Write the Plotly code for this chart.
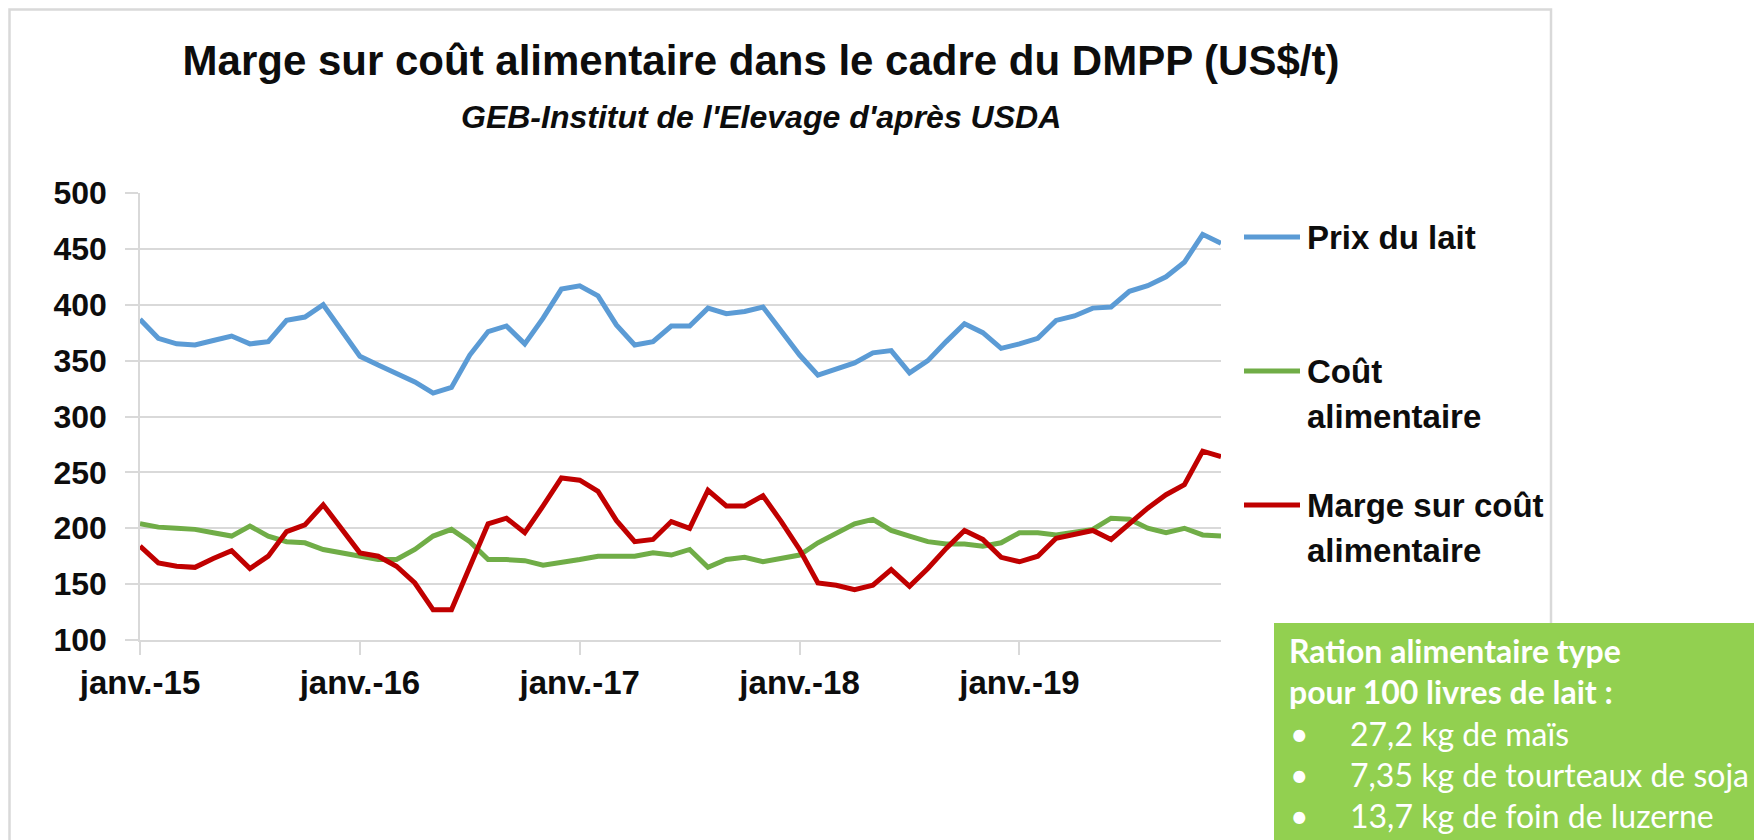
import plotly.graph_objects as go

# monthly series, janv. 2015 -> déc. 2019 (US$/t)
months = [f"{yr}-{mo:02d}" for yr in range(2015, 2020) for mo in range(1, 13)]

prix_du_lait = [
    387, 370, 365, 364, 368, 372, 365, 367, 386, 389, 400, 377,
    354, 346, 338, 331, 321, 326, 355, 376, 381, 365, 388, 414,
    417, 408, 382, 364, 367, 381, 381, 397, 392, 394, 398, 377,
    355, 337, 343, 348, 357, 359, 339, 350, 367, 383, 375, 361,
    365, 370, 386, 390, 397, 398, 412, 417, 425, 438, 463, 455,
]
cout_alimentaire = [
    204, 201, 200, 199, 196, 193, 202, 193, 188, 187, 181, 178,
    176, 172, 172, 181, 193, 199, 188, 172, 172, 171, 167, 169,
    172, 175, 175, 175, 178, 176, 181, 165, 172, 174, 170, 173,
    176, 187, 196, 204, 208, 198, 193, 188, 186, 186, 184, 187,
    196, 196, 194, 196, 199, 209, 208, 200, 196, 200, 194, 193,
]
marge = [
    184, 169, 166, 165, 173, 180, 164, 175, 197, 203, 221, 199,
    178, 175, 166, 151, 127, 127, 166, 204, 209, 196, 220, 245,
    243, 233, 207, 188, 190, 206, 200, 234, 220, 220, 229, 206,
    181, 151, 149, 145, 149, 163, 148, 164, 182, 198, 190, 174,
    170, 175, 191, 195, 198, 190, 204, 218, 230, 239, 269, 264,
]

tick_months = ["2015-01", "2016-01", "2017-01", "2018-01", "2019-01"]
tick_labels = ["janv.-15", "janv.-16", "janv.-17", "janv.-18", "janv.-19"]

SERIES = [
    ("Prix du lait", prix_du_lait, "#5B9BD5"),
    ("Coût alimentaire", cout_alimentaire, "#70AD47"),
    ("Marge sur coût alimentaire", marge, "#C00000"),
]

ARIAL = "Liberation Sans, Arial, sans-serif"
CALIBRI = "Lato, Noto Sans, sans-serif"
GRID = "#d9d9d9"
INK = "#0d0d0d"

# the page body keeps its 8px margin, so the figure is 8px smaller
OFF = 8
W, H = 1762 - OFF, 840 - OFF
ML, MR, MT, MB = 132, 541, 185, 200
PW, PH = W - ML - MR, H - MT - MB


def fx(px):
    # page pixel -> paper x
    return (px - OFF - ML) / PW


def fy(py):
    # page pixel -> paper y
    return (H - MB - (py - OFF)) / PH


fig = go.Figure()
for name, values, color in SERIES:
    fig.add_trace(go.Scatter(
        x=months, y=values, mode="lines", name=name,
        line=dict(color=color, width=5),
    ))

shapes = [
    # outer chart frame
    dict(type="rect", xref="paper", yref="paper",
         x0=fx(9.5), x1=fx(1551), y0=fy(9.5), y1=fy(880),
         line=dict(color=GRID, width=2.5)),
    # green note box
    dict(type="rect", xref="paper", yref="paper",
         x0=fx(1274), x1=fx(1780), y0=fy(623), y1=fy(880),
         fillcolor="#92D050", line=dict(width=0)),
]

annotations = [
    dict(text="<i>GEB-Institut de l'Elevage d'après USDA</i>",
         x=fx(761), y=fy(117), xref="paper", yref="paper",
         xanchor="center", yanchor="middle", showarrow=False,
         font=dict(family=ARIAL, size=32, color=INK, weight="bold")),
]

# legend drawn by hand to keep Excel spacing
legend_rows = [
    (237, ["Prix du lait"], SERIES[0][2]),
    (371, ["Coût", "alimentaire"], SERIES[1][2]),
    (505, ["Marge sur coût", "alimentaire"], SERIES[2][2]),
]
for ypos, lines, color in legend_rows:
    shapes.append(dict(type="line", xref="paper", yref="paper",
                       x0=fx(1244), x1=fx(1300), y0=fy(ypos), y1=fy(ypos),
                       line=dict(color=color, width=5)))
    for i, txt in enumerate(lines):
        annotations.append(dict(
            text=txt, x=fx(1305), y=fy(ypos + 45 * i), xref="paper", yref="paper",
            xanchor="left", yanchor="middle", showarrow=False,
            font=dict(family=ARIAL, size=33, color=INK, weight="bold")))

note_head = ["Ration alimentaire type", "pour 100 livres de lait :"]
note_items = ["27,2 kg de maïs", "7,35 kg de tourteaux de soja", "13,7 kg de foin de luzerne"]
for i, txt in enumerate(note_head):
    annotations.append(dict(
        text=txt, x=fx(1287), y=fy(650 + 41 * i), xref="paper", yref="paper",
        xanchor="left", yanchor="middle", showarrow=False,
        font=dict(family=CALIBRI, size=32, color="white", weight="bold")))
for i, txt in enumerate(note_items):
    yy = fy(733 + 41 * i)
    annotations.append(dict(
        text="•", x=fx(1288), y=yy, xref="paper", yref="paper",
        xanchor="left", yanchor="middle", showarrow=False,
        font=dict(family=CALIBRI, size=32, color="white")))
    annotations.append(dict(
        text=txt, x=fx(1348), y=yy, xref="paper", yref="paper",
        xanchor="left", yanchor="middle", showarrow=False,
        font=dict(family=CALIBRI, size=32, color="white")))

fig.update_layout(
    width=W, height=H,
    margin=dict(l=ML, r=MR, t=MT, b=MB),
    paper_bgcolor="white", plot_bgcolor="white",
    showlegend=False,
    title=dict(text="Marge sur coût alimentaire dans le cadre du DMPP (US$/t)",
               x=(761 - OFF) / W, xanchor="center", y=1 - (60 - OFF) / H, yanchor="middle",
               font=dict(family=ARIAL, size=42, color=INK, weight="bold")),
    xaxis=dict(
        type="category", range=[0, len(months) - 1],
        tickmode="array", tickvals=tick_months, ticktext=tick_labels,
        showgrid=False, showline=True, linecolor=GRID, linewidth=1.5,
        ticks="outside", ticklen=13, tickcolor=GRID, tickwidth=1.5,
        tickfont=dict(family=ARIAL, size=33, color=INK, weight="bold"),
        ticklabelstandoff=0,
    ),
    yaxis=dict(
        range=[100, 500], dtick=50, tick0=100,
        showgrid=True, gridcolor=GRID, gridwidth=1.5, zeroline=False,
        showline=True, linecolor=GRID, linewidth=1.5,
        ticks="outside", ticklen=13, tickcolor=GRID, tickwidth=1.5,
        tickfont=dict(family=ARIAL, size=32, color=INK, weight="bold"),
        ticklabelstandoff=12,
    ),
    shapes=shapes,
    annotations=annotations,
)

fig.write_html("out.html")
